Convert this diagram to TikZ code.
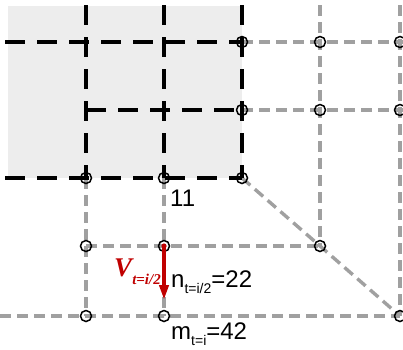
\documentclass[tikz,border=0pt]{standalone}
\usepackage{fontspec}
\setmainfont{Liberation Sans}
\newfontfamily\serifbi{Liberation Serif}
\usetikzlibrary{arrows.meta}
\definecolor{gline}{HTML}{A0A0A0}
\definecolor{vred}{HTML}{C00000}
\definecolor{shadegray}{HTML}{EDEDED}
\tikzset{
  blk/.style={black, line width=3.8pt, dash pattern=on 20pt off 12pt},
  gry/.style={gline, line width=3.4pt, dash pattern=on 11pt off 6pt},
  pt/.style={circle, minimum size=12pt, inner sep=0pt},
  lbl/.style={font=\fontsize{24}{26}\selectfont, anchor=base west, inner sep=0pt},
}
\begin{document}
\begin{tikzpicture}[x=1pt,y=-1pt]
\useasboundingbox (0,0) rectangle (403,349);
\fill[shadegray] (8,6) rectangle (242,178);
% free ends
\coordinate (t86) at (86,5);
\coordinate (t164) at (164,5);
\coordinate (t242) at (242,5);
\coordinate (t320) at (320,5);
\coordinate (t400) at (400,5);
\coordinate (l42) at (5,42);
\coordinate (l178) at (5,178);
\coordinate (l316) at (0,316);
\coordinate (r42) at (403,42);
\coordinate (r110) at (403,110);
\coordinate (j86) at (86,110);
% nodes
\node[pt] (a) at (242,42) {};
\node[pt] (b) at (242,110) {};
\node[pt] (c) at (242,178) {};
\node[pt] (d) at (86,178) {};
\node[pt] (e) at (164,178) {};
\node[pt] (f) at (320,42) {};
\node[pt] (g) at (400,42) {};
\node[pt] (h) at (320,110) {};
\node[pt] (k) at (400,110) {};
\node[pt] (p) at (320,246) {};
\node[pt] (q) at (400,316) {};
\node[pt] (u) at (86,246) {};
\node[pt] (v) at (164,246) {};
\node[pt] (w) at (86,316) {};
\node[pt] (z) at (164,316) {};
% gray lines
\draw[gry] (a.center) -- (f.center) -- (g.center) -- (r42);
\draw[gry] (b.center) -- (h.center) -- (k.center) -- (r110);
\draw[gry] (t320) -- (f.center) -- (h.center) -- (p.center);
\draw[gry] (t400) -- (g.center) -- (k.center) -- (q.center);
\draw[gry] (c.center) -- (p.center) -- (q.center);
\draw[gry] (u.center) -- (v.center) -- (p.center);
\draw[gry] (l316) -- (w.center) -- (z.center) -- (q.center);
\draw[gry] (d.center) -- (u.center) -- (w.center);
\draw[gry] (e.center) -- (v.center) -- (z.center);
% black lines
\draw[blk] (l42) -- (a.center);
\draw[blk] (j86) -- (b.center);
\draw[blk] (l178) -- (d.center) -- (e.center) -- (c.center);
\draw[blk] (t86) -- (d.center);
\draw[blk] (t164) -- (e.center);
\draw[blk] (t242) -- (a.center) -- (b.center) -- (c.center);
% circles on top
\foreach \n in {a,b,c,d,e,f,g,h,k,p,q,u,v,w,z}
  \draw[black, line width=1.5pt] (\n) circle (5.5pt);
\fill[vred] (v.center) circle (2.6pt);
% red arrow
\coordinate (vend) at (164,300);
\draw[vred, line width=3.8pt, -{Triangle[length=15pt,width=9pt]}] (v.center) -- (vend);
% labels
\node[text=vred, anchor=base east, inner sep=0pt] (vl) at (161,276)
  {\serifbi\bfseries\itshape\fontsize{27}{29}\selectfont V\raisebox{-8pt}{\fontsize{15}{16}\selectfont t=i/2}};
\node[lbl] (nl) at (171,287) {n\raisebox{-6pt}{\fontsize{14}{15}\selectfont t=i/2}=22};
\node[lbl] (ml) at (171,339) {m\raisebox{-6pt}{\fontsize{14}{15}\selectfont t=i}=42};
\node[lbl] (el) at (170,206) {11};
\end{tikzpicture}
\end{document}
